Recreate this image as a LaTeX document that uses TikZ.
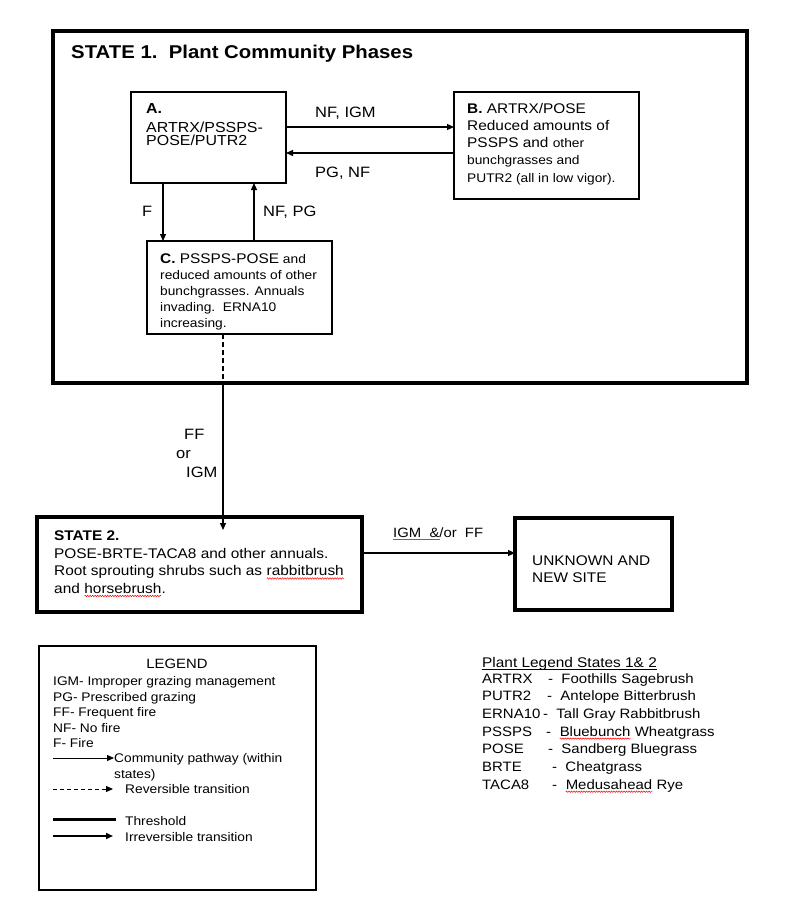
\documentclass[tikz,border=0pt]{standalone}
\usepackage{fontspec}
\setmainfont[FakeStretch=1.1]{Liberation Sans}
\usetikzlibrary{arrows.meta,decorations.pathmorphing}
\definecolor{ulblue}{RGB}{70,110,160}
\newcommand\spellerr[1]{\tikz[baseline=(w.base)]{\node[inner sep=0pt, outer sep=0pt] (w) {#1}; \draw[red, line width=0.5pt, decorate, decoration={snake, amplitude=0.7pt, segment length=2.5pt}] ([yshift=-2.5pt]w.base west) -- ([yshift=-2.5pt]w.base east);}}
\newcommand\setfs[2]{\fontsize{#1}{#2}\selectfont}
\tikzset{
  phasebox/.style={draw, line width=1.1pt, inner sep=0pt, outer sep=0pt},
  statebox/.style={draw, line width=4.5pt, inner sep=0pt, outer sep=0pt},
  txt/.style={inner sep=0pt, align=left, anchor=north west},
  lbl/.style={inner sep=0pt, anchor=base west, font=\setfs{15}{18}},
  flow/.style={line width=1.2pt, -{Triangle[length=7pt,width=6pt]}}
}
\begin{document}
\begin{tikzpicture}[x=1pt,y=-1pt]
\useasboundingbox (0,0) rectangle (800,912);
\node[statebox, minimum width=694pt, minimum height=352pt] (s1) at (400,207) {};
\node[lbl, font=\setfs{18.5}{22}\bfseries] (s1title) at (71,58.7) {STATE 1.\ \ Plant Community Phases};
\node[phasebox, minimum width=155pt, minimum height=91pt] (A) at (208.5,137.5) {};
\node[txt, font=\setfs{14.5}{13.5}] (Atext) at (146,103.5) {\textbf{A.}\\[5pt]ARTRX/PSSPS-\\POSE/PUTR2};
\node[phasebox, minimum width=185pt, minimum height=107pt] (B) at (546.5,145.5) {};
\node[txt, font=\setfs{14}{17.2}] (Btext) at (467,103) {\textbf{B.} ARTRX/POSE\\Reduced amounts of\\PSSPS and {\setfs{12.5}{17.2}other}\\{\setfs{12.5}{17.2}bunchgrasses and}\\{\setfs{12.5}{17.2}PUTR2 (all in low vigor).}};
\node[phasebox, minimum width=185pt, minimum height=93pt] (C) at (239.5,287.5) {};
\node[txt, font=\setfs{12.5}{15.8}] (Ctext) at (160,254) {{\setfs{14}{15.8}\textbf{C.} PSSPS-POSE} and\\reduced amounts of other\\bunchgrasses. Annuals\\invading.\ \ ERNA10\\increasing.};
\draw[flow] (A.east |- 0,127) -- (B.west |- 0,127);
\draw[flow] (B.west |- 0,153) -- (A.east |- 0,153);
\draw[flow] (A.south -| 163,0) -- (C.north -| 163,0);
\draw[flow] (C.north -| 254,0) -- (A.south -| 254,0);
\node[lbl] (ab) at (315,117.4) {NF, IGM};
\node[lbl] (ba) at (315,177.4) {PG, NF};
\node[lbl] (ac) at (142,216.4) {F};
\node[lbl] (ca) at (263,216.4) {NF, PG};
\draw[line width=1.1pt, dash pattern=on 5pt off 3pt] (C.south -| 223,0) -- (s1.south -| 223,0);
\node[statebox, minimum width=325pt, minimum height=95pt] (s2) at (199.5,564.5) {};
\draw[flow, shorten >=-13pt] (s1.south -| 223,0) -- (s2.north -| 223,0);
\node[txt, font=\setfs{15}{19}] (s1s2) at (176,428.6) {\hspace{8pt}FF\\or\\\hspace{10pt}IGM};
\node[txt, font=\setfs{14}{17.5}] (s2text) at (54,531) {\textbf{STATE 2.}\\POSE-BRTE-TACA8 and other annuals.\\Root sprouting shrubs such as \spellerr{rabbitbrush}\\and \spellerr{horsebrush}.};
\node[statebox, minimum width=157pt, minimum height=92pt] (U) at (593.5,564) {};
\node[txt, font=\setfs{14}{17}] (Utext) at (532,556) {UNKNOWN AND\\NEW SITE};
\draw[flow] (s2.east |- 0,553) -- (U.west |- 0,553);
\node[lbl, font=\setfs{13.5}{16}] (s2U) at (393,537) {IGM\ \ \&/or\ \ FF};
\draw[ulblue, line width=1pt] ([yshift=-2pt]s2U.base west) -- ++(47,0);
\node[phasebox, minimum width=277pt, minimum height=244pt] (leg) at (177.5,768) {};
\node[inner sep=0pt, anchor=base, font=\setfs{13.5}{16}] (legtitle) at (177,668) {LEGEND};
\foreach \item [count=\i] in {IGM- Improper grazing management, PG- Prescribed grazing, FF- Frequent fire, NF- No fire, F- Fire}
  \node[lbl, font=\setfs{12.5}{15.5}] (abbr\i) at (53,{685.5+15.5*(\i-1)}) {\item};
\node[txt, font=\setfs{12.5}{15.8}] (cp) at (114,753.5) {Community pathway (within\\states)};
\node[lbl, font=\setfs{12.5}{15.5}] (rev) at (125,793.5) {Reversible transition};
\node[lbl, font=\setfs{12.5}{15.5}] (thr) at (125,825.5) {Threshold};
\node[lbl, font=\setfs{12.5}{15.5}] (irr) at (125,841.5) {Irreversible transition};
\coordinate (cp0) at (53,758);
\coordinate (rev0) at (53,789);
\coordinate (thr0) at (53,819);
\coordinate (irr0) at (53,836);
\draw[flow, line width=1pt] (cp0) -- (cp.west |- cp0);
\draw[flow, line width=1pt, dash pattern=on 4pt off 3pt, shorten >=12pt] (rev0) -- (rev.west |- rev0);
\draw[line width=3pt, shorten >=9pt] (thr0) -- (thr.west |- thr0);
\draw[flow, line width=1.6pt, shorten >=12pt] (irr0) -- (irr.west |- irr0);
\node[lbl, font=\setfs{14}{17}] (pltitle) at (482,667) {Plant Legend States 1\& 2};
\draw[line width=0.8pt] ([yshift=-2pt]pltitle.base west) -- ([yshift=-2pt]pltitle.base east);
\foreach \code/\dx/\name [count=\i] in {ARTRX/548/Foothills Sagebrush, PUTR2/547/Antelope Bitterbrush, ERNA10/543/Tall Gray Rabbitbrush, PSSPS/546/\spellerr{Bluebunch} Wheatgrass, POSE/548/Sandberg Bluegrass, BRTE/552/Cheatgrass, TACA8/552/\spellerr{Medusahead} Rye}{
  \node[lbl, font=\setfs{13.6}{17}] (code\i) at (482,{683+17.7*(\i-1)}) {\code};
  \node[lbl, font=\setfs{13.6}{17}] (name\i) at (\dx,{683+17.7*(\i-1)}) {-\ \ \name};
}
\end{tikzpicture}
\end{document}
